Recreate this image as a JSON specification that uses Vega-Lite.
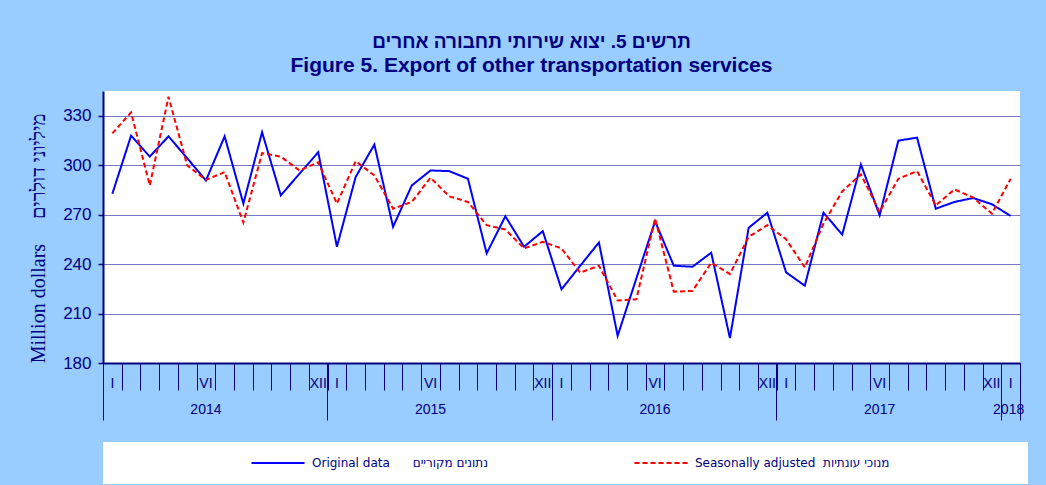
{
  "$schema": "https://vega.github.io/schema/vega-lite/v6.json",
  "width": 917,
  "height": 272,
  "autosize": {"type": "none"},
  "padding": {"left": 103, "top": 91, "right": 26, "bottom": 122},
  "background": "#99CCFF",
  "view": {"fill": "white", "stroke": null},
  "title": {
    "text": "תרשים 5. יצוא שירותי תחבורה אחרים",
    "subtitle": "Figure 5. Export of other transportation services",
    "font": "Liberation Sans",
    "fontSize": 19,
    "fontWeight": "bold",
    "color": "#000080",
    "subtitleFont": "Liberation Sans",
    "subtitleFontSize": 21,
    "subtitleFontWeight": "bold",
    "subtitleColor": "#000080",
    "subtitlePadding": 3,
    "anchor": "middle",
    "frame": "group",
    "dx": -30,
    "offset": 15
  },
  "data": {
    "values": [
      {"m": "2014-01", "orig": 282.7, "sa": 319.3},
      {"m": "2014-02", "orig": 317.9, "sa": 332.0},
      {"m": "2014-03", "orig": 305.2, "sa": 287.7},
      {"m": "2014-04", "orig": 317.5, "sa": 341.5},
      {"m": "2014-05", "orig": 304.2, "sa": 299.8},
      {"m": "2014-06", "orig": 290.7, "sa": 291.1},
      {"m": "2014-07", "orig": 317.5, "sa": 295.8},
      {"m": "2014-08", "orig": 276.7, "sa": 265.2},
      {"m": "2014-09", "orig": 320.0, "sa": 307.3},
      {"m": "2014-10", "orig": 281.7, "sa": 305.2},
      {"m": "2014-11", "orig": 294.8, "sa": 296.8},
      {"m": "2014-12", "orig": 307.9, "sa": 301.8},
      {"m": "2015-01", "orig": 250.5, "sa": 276.7},
      {"m": "2015-02", "orig": 292.8, "sa": 302.4},
      {"m": "2015-03", "orig": 312.5, "sa": 293.8},
      {"m": "2015-04", "orig": 262.6, "sa": 273.6},
      {"m": "2015-05", "orig": 287.7, "sa": 277.7},
      {"m": "2015-06", "orig": 296.8, "sa": 292.4},
      {"m": "2015-07", "orig": 296.4, "sa": 281.1},
      {"m": "2015-08", "orig": 291.8, "sa": 277.7},
      {"m": "2015-09", "orig": 246.5, "sa": 263.6},
      {"m": "2015-10", "orig": 269.0, "sa": 261.0},
      {"m": "2015-11", "orig": 250.5, "sa": 249.5},
      {"m": "2015-12", "orig": 260.0, "sa": 253.5},
      {"m": "2016-01", "orig": 224.7, "sa": 249.5},
      {"m": "2016-02", "orig": 239.0, "sa": 234.8},
      {"m": "2016-03", "orig": 253.1, "sa": 239.0},
      {"m": "2016-04", "orig": 196.5, "sa": 217.9},
      {"m": "2016-05", "orig": 231.3, "sa": 218.7},
      {"m": "2016-06", "orig": 266.0, "sa": 267.6},
      {"m": "2016-07", "orig": 239.0, "sa": 223.3},
      {"m": "2016-08", "orig": 238.4, "sa": 223.7},
      {"m": "2016-09", "orig": 246.9, "sa": 240.8},
      {"m": "2016-10", "orig": 195.1, "sa": 234.0},
      {"m": "2016-11", "orig": 262.0, "sa": 256.5},
      {"m": "2016-12", "orig": 271.2, "sa": 263.6},
      {"m": "2017-01", "orig": 235.0, "sa": 255.1},
      {"m": "2017-02", "orig": 226.9, "sa": 238.0},
      {"m": "2017-03", "orig": 271.2, "sa": 264.6},
      {"m": "2017-04", "orig": 257.9, "sa": 284.1},
      {"m": "2017-05", "orig": 300.4, "sa": 294.4},
      {"m": "2017-06", "orig": 269.6, "sa": 271.6},
      {"m": "2017-07", "orig": 314.9, "sa": 291.8},
      {"m": "2017-08", "orig": 316.7, "sa": 296.4},
      {"m": "2017-09", "orig": 273.6, "sa": 275.6},
      {"m": "2017-10", "orig": 277.7, "sa": 285.3},
      {"m": "2017-11", "orig": 280.1, "sa": 280.3},
      {"m": "2017-12", "orig": 276.3, "sa": 270.6},
      {"m": "2018-01", "orig": 269.2, "sa": 291.8}
    ]
  },
  "transform": [{"fold": ["orig", "sa"], "as": ["series", "value"]}],
  "layer": [
    {
      "mark": {"type": "line", "strokeWidth": 2},
      "encoding": {
        "x": {
          "field": "m", "type": "ordinal",
          "scale": {"type": "band", "paddingInner": 0, "paddingOuter": 0},
          "bandPosition": 0.5,
          "axis": {"orient": "bottom", "tickBand": "extent", "tickSize": 27, "tickColor": "#000080", "tickWidth": 1, "labels": false, "domain": true, "domainColor": "#000080", "domainWidth": 2, "grid": false, "title": null}
        },
        "y": {
          "field": "value", "type": "quantitative",
          "scale": {"domain": [180, 345], "nice": false, "zero": false},
          "axis": {
            "values": [180, 210, 240, 270, 300, 330],
            "grid": true, "gridColor": "#7878C0", "gridWidth": 1,
            "domainColor": "#000080", "domainWidth": 2,
            "tickColor": "#000080", "tickSize": 5, "tickWidth": 1.5,
            "labelFont": "Liberation Sans", "labelFontSize": 17, "labelColor": "#000080", "labelPadding": 7,
            "title": "Million dollars\u00a0\u00a0\u00a0\u00a0\u00a0מיליוני דולרים",
            "titleFont": "Liberation Serif", "titleFontSize": 20, "titleFontWeight": "normal", "titleColor": "#000080",
            "titlePadding": 14, "titleY": 147
          }
        },
        "color": {
          "field": "series", "type": "nominal",
          "scale": {"domain": ["orig", "sa"], "range": ["#0000FF", "#FF0000"]},
          "legend": {
            "orient": "none", "legendX": 0, "legendY": 351, "direction": "horizontal",
            "fillColor": "white", "padding": 15, "title": null,
            "symbolType": "M-5.3,0H5.3", "symbolSize": 100, "symbolStrokeWidth": 2, "symbolOffset": 154,
            "labelOffset": 28, "labelFont": "DejaVu Sans", "labelFontSize": 12, "labelColor": "#000080", "labelLimit": 800,
            "columnPadding": 13,
            "labelExpr": "datum.value == 'orig' ? 'Original data\u00a0\u00a0\u00a0\u00a0\u00a0\u00a0נתונים מקוריים' : 'Seasonally adjusted\u00a0\u00a0מנוכי עונתיות\u2800\u2800\u2800\u2800\u2800\u2800\u2800\u2800\u2800\u2800\u2800\u2800\u2800\u2800'"
          }
        },
        "strokeDash": {
          "field": "series", "type": "nominal",
          "scale": {"domain": ["orig", "sa"], "range": [[1, 0], [5, 3]]},
          "legend": {
            "orient": "none", "legendX": 0, "legendY": 351, "direction": "horizontal",
            "fillColor": "white", "padding": 15, "title": null,
            "symbolType": "M-5.3,0H5.3", "symbolSize": 100, "symbolStrokeWidth": 2, "symbolOffset": 154,
            "labelOffset": 28, "labelFont": "DejaVu Sans", "labelFontSize": 12, "labelColor": "#000080", "labelLimit": 800,
            "columnPadding": 13,
            "labelExpr": "datum.value == 'orig' ? 'Original data\u00a0\u00a0\u00a0\u00a0\u00a0\u00a0נתונים מקוריים' : 'Seasonally adjusted\u00a0\u00a0מנוכי עונתיות\u2800\u2800\u2800\u2800\u2800\u2800\u2800\u2800\u2800\u2800\u2800\u2800\u2800\u2800'"
          }
        }
      }
    },
    {
      "mark": {"type": "point", "opacity": 0},
      "encoding": {
        "x": {
          "field": "m", "type": "ordinal",
          "scale": {"type": "band", "paddingInner": 0, "paddingOuter": 0},
          "axis": {
            "orient": "bottom",
            "values": ["2014-01", "2014-06", "2014-12", "2015-01", "2015-06", "2015-12", "2016-01", "2016-06", "2016-12", "2017-01", "2017-06", "2017-12", "2018-01"],
            "bandPosition": 0.5, "ticks": false, "domain": false, "grid": false, "title": null,
            "labelPadding": 13, "labelAngle": 0, "labelBaseline": "top",
            "labelFont": "Liberation Sans", "labelFontSize": 14, "labelColor": "#000080",
            "labelExpr": "slice(datum.value, 5) == '01' ? 'I' : slice(datum.value, 5) == '06' ? 'VI' : 'XII'"
          }
        }
      }
    },
    {
      "mark": {"type": "point", "opacity": 0},
      "encoding": {
        "x": {
          "field": "m", "type": "ordinal",
          "scale": {"type": "band", "paddingInner": 0, "paddingOuter": 0},
          "axis": {
            "orient": "bottom",
            "values": ["2014-01", "2015-01", "2016-01", "2017-01", "2018-01"],
            "bandPosition": 0, "tickSize": 57, "tickColor": "#000080", "tickWidth": 1,
            "labels": false, "domain": false, "grid": false, "title": null
          }
        }
      }
    },
    {
      "mark": {"type": "point", "opacity": 0},
      "encoding": {
        "x": {
          "field": "m", "type": "ordinal",
          "scale": {"type": "band", "paddingInner": 0, "paddingOuter": 0},
          "axis": {
            "orient": "bottom",
            "values": ["2014-06", "2015-06", "2016-06", "2017-06"],
            "bandPosition": 1, "ticks": false, "domain": false, "grid": false, "title": null,
            "labelPadding": 39, "labelAngle": 0, "labelBaseline": "top",
            "labelFont": "Liberation Sans", "labelFontSize": 14, "labelColor": "#000080",
            "labelExpr": "slice(datum.value, 0, 4)"
          }
        }
      }
    },
    {
      "mark": {"type": "point", "opacity": 0},
      "encoding": {
        "x": {
          "field": "m", "type": "ordinal",
          "scale": {"type": "band", "paddingInner": 0, "paddingOuter": 0},
          "axis": {
            "orient": "bottom",
            "values": ["2018-01"],
            "bandPosition": 1, "tickSize": 57, "tickColor": "#000080", "tickWidth": 1,
            "domain": false, "grid": false, "title": null,
            "labelPadding": -18, "labelOffset": -2, "labelAngle": 0, "labelBaseline": "top",
            "labelFont": "Liberation Sans", "labelFontSize": 14, "labelColor": "#000080",
            "labelExpr": "slice(datum.value, 0, 4)"
          }
        }
      }
    }
  ],
  "resolve": {"axis": {"x": "independent"}},
  "config": {"font": "Liberation Sans"}
}
